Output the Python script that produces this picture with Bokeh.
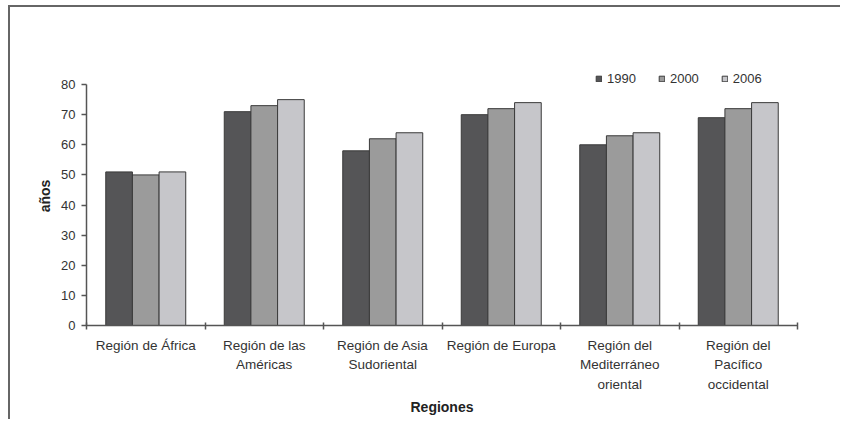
from bokeh.plotting import figure
from bokeh.models import (ColumnDataSource, FixedTicker, Legend, LegendItem, Range1d)
from bokeh.transform import dodge
from bokeh.embed import file_html
from bokeh.resources import INLINE

regions = ["Región de África", "Región de las\nAméricas", "Región de Asia\nSudoriental",
           "Región de Europa", "Región del\nMediterráneo\noriental",
           "Región del\nPacífico\noccidental"]
years = ["1990", "2000", "2006"]
v1990 = [51, 71, 58, 70, 60, 69]
v2000 = [50, 73, 62, 72, 63, 72]
v2006 = [51, 75, 64, 74, 64, 74]
y_ticks = [0, 10, 20, 30, 40, 50, 60, 70, 80]

colors = ["#555557", "#9b9b9b", "#c6c6ca"]
FONT = "Liberation Sans"

centers = [i + 0.5 for i in range(len(regions))]
src = ColumnDataSource(dict(x=centers, y1990=v1990, y2000=v2000, y2006=v2006))

W, H = 832, 414
p = figure(width=W, height=H, output_backend="svg", toolbar_location=None,
           x_range=Range1d(0, len(regions)), y_range=Range1d(0, 86),
           min_border_left=76, min_border_right=W - 787, min_border_top=59,
           min_border_bottom=H - 318)
p.styles = {"margin-top": "5px", "margin-left": "8px",
            "border-top": "2px solid #666666", "border-left": "2px solid #666666",
            "overflow": "hidden"}
p.outline_line_color = None
p.xgrid.visible = False
p.ygrid.visible = False

renderers = []
for yr, col, off in zip(years, colors, [-0.225, 0.0, 0.225]):
    r = p.vbar(x=dodge("x", off, range=p.x_range), top="y" + yr, width=0.225,
               source=src, fill_color=col, line_color="#3a3a3a", line_width=1)
    renderers.append(r)

# axes
xa = p.xaxis[0]
xa.ticker = FixedTicker(ticks=centers, minor_ticks=list(range(len(regions) + 1)))
xa.major_label_overrides = {c: lab for c, lab in zip(centers, regions)}
xa.major_tick_in = 0
xa.major_tick_out = 0
xa.minor_tick_in = 3
xa.minor_tick_out = 4
xa.minor_tick_line_color = "#555555"
xa.minor_tick_line_width = 1.5
xa.major_label_standoff = 8
xa.major_label_text_font = FONT
xa.major_label_text_font_size = "13.5px"
xa.major_label_text_color = "#333333"
xa.major_label_text_line_height = 1.3
xa.axis_label = "Regiones"
xa.axis_label_text_font = FONT
xa.axis_label_text_font_style = "bold"
xa.axis_label_text_font_size = "14px"
xa.axis_label_text_color = "#222222"
xa.axis_label_standoff = 4
xa.axis_line_color = "#555555"
xa.axis_line_width = 1.5

ya = p.yaxis[0]
ya.ticker = FixedTicker(ticks=y_ticks, minor_ticks=[])
ya.bounds = (0, 80)
ya.major_tick_in = 0
ya.major_tick_out = 5
ya.major_tick_line_color = "#555555"
ya.major_tick_line_width = 1.5
ya.minor_tick_line_color = None
ya.major_label_standoff = 6
ya.major_label_text_font = FONT
ya.major_label_text_font_size = "13px"
ya.major_label_text_color = "#333333"
ya.axis_label = "años"
ya.axis_label_text_font = FONT
ya.axis_label_text_font_style = "bold"
ya.axis_label_text_font_size = "14px"
ya.axis_label_text_color = "#222222"
ya.axis_label_standoff = 5
ya.axis_line_color = "#555555"
ya.axis_line_width = 1.5

legend = Legend(items=[LegendItem(label=yr, renderers=[r]) for yr, r in zip(years, renderers)],
                orientation="horizontal", location=(509, 239),
                glyph_width=7, glyph_height=7, label_standoff=5, spacing=22,
                padding=0, margin=0, label_height=14, label_width=10,
                border_line_color=None, background_fill_alpha=0,
                label_text_font=FONT, label_text_font_size="13px",
                label_text_color="#333333")
p.add_layout(legend, "center")

html = file_html(p, INLINE)
html = html.replace("</head>", "<style>html, body { overflow: hidden; }</style>\n</head>", 1)
open("out.html", "w").write(html)
